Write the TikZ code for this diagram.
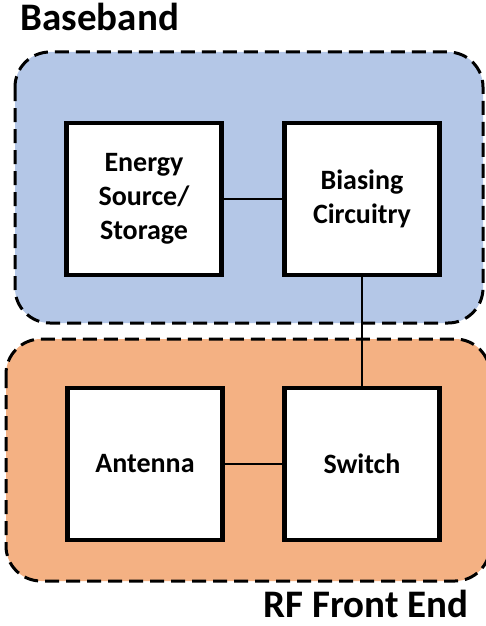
\documentclass[tikz,border=0pt]{standalone}
\usepackage{fontspec}
\setmainfont{Carlito}
\definecolor{BBblue}{HTML}{B4C7E7}
\definecolor{RForange}{HTML}{F4B183}
\usetikzlibrary{positioning}

\begin{document}
\begin{tikzpicture}[x=1pt,y=-1pt,
  block/.style={draw,line width=4.5pt,fill=white,minimum width=155pt,minimum height=152pt,
    align=center,font=\fontsize{28}{34}\selectfont\bfseries},
  region/.style={draw,line width=3pt,dash pattern=on 14pt off 7pt,rounded corners=35pt},
  title/.style={font=\fontsize{39}{46}\selectfont\bfseries}]
  \useasboundingbox (0,0) rectangle (485,626);
  \draw[region,fill=BBblue] (15,52) rectangle (483,323);
  \draw[region,fill=RForange] (6,339) rectangle (490,581);
  \node[title,anchor=base west] (bbtitle) at (17,31) {Baseband};
  \node[title,anchor=base east] (rftitle) at (472,617) {RF Front End};
  \node[block] (energy) at (144,199) {Energy\\Source/\\Storage};
  \node[block] (biasing) at (362,199) {Biasing\\Circuitry};
  \node[block] (antenna) at (145,464) {Antenna};
  \node[block] (switch) at (362,464) {Switch};
  \draw[line width=1.5pt] (energy) -- (biasing);
  \draw[line width=1.5pt] (antenna) -- (switch);
  \draw[line width=1.5pt] (biasing) -- (switch);
\end{tikzpicture}
\end{document}
